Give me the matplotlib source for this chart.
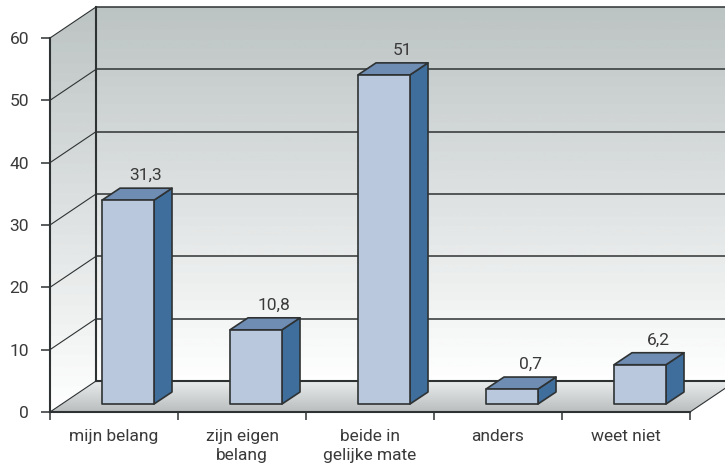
import numpy as np
import matplotlib
matplotlib.use('Agg')
import matplotlib.pyplot as plt
from matplotlib.patches import Polygon

plt.rcParams['font.family'] = ['Roboto', 'DejaVu Sans']

categorias = ['mijn belang', 'zijn eigen\nbelang', 'beide in\ngelijke mate', 'anders', 'weet niet']
rotulos = ['31,3', '10,8', '51', '0,7', '6,2']
# heights as drawn, read against the axis (the drawing is not exact to the labels)
alturas = [32.7, 11.9, 52.8, 2.4, 6.3]
marcas_y = [0, 10, 20, 30, 40, 50, 60]

# depth of the box and of the bars, in axis units
px_x = 128.0
px_y = 374 / 60
prof_x = 46 / px_x
prof_y = 31 / px_y
barra_dx = 18 / px_x
barra_dy = 12 / px_y
base = 8 / px_y
largura = 52 / px_x
desvio = 14 / px_x

COR_LINHA = '#2e3233'
COR_TEXTO = '#3a3a3a'
TAM = 12.5

fig = plt.figure(figsize=(7.25, 4.73), dpi=100)

# background axes over the whole figure, same units as the chart axes
fundo = fig.add_axes([0, 0, 1, 1], zorder=0)
fundo.axis('off')
ax = fig.add_axes([50 / 725, 61 / 473, 640 / 725, 374 / 473], zorder=1)
xlim_fundo = (-50 / px_x, 675 / px_x)
ylim_fundo = (-61 / px_y, 412 / px_y)


def gradiente(pontos, y0, y1, cor_baixo, cor_cima, faixas=0):
    # vertical gradient clipped to a polygon
    c0 = np.array(matplotlib.colors.to_rgb(cor_baixo))
    c1 = np.array(matplotlib.colors.to_rgb(cor_cima))
    t = np.linspace(1, 0, 256)
    if faixas:
        # stepped like the banding of the original gradient
        t = np.round(t * faixas) / faixas
    img = c0 + (c1 - c0) * t[:, None, None]
    xs = [p[0] for p in pontos]
    im = fundo.imshow(img, extent=[min(xs), max(xs), y0, y1], aspect='auto')
    pol = Polygon(pontos, closed=True, transform=fundo.transData, fc='none', ec='none')
    fundo.add_patch(pol)
    im.set_clip_path(pol)


# walls and floor
gradiente([(prof_x, prof_y), (5.4, prof_y), (5.4, 60 + prof_y), (prof_x, 60 + prof_y)],
          prof_y, 60 + prof_y, '#ffffff', '#bcc3c3', faixas=40)
gradiente([(0, 0), (prof_x, prof_y), (prof_x, 60 + prof_y), (0, 60)],
          0, 60 + prof_y, '#ffffff', '#bcc3c3', faixas=40)
gradiente([(0, 0), (5, 0), (5 + prof_x, prof_y), (prof_x, prof_y)],
          0, prof_y, '#b9bdbd', '#eceeee')
fundo.set_xlim(xlim_fundo)
fundo.set_ylim(ylim_fundo)

# grid lines
for v in marcas_y:
    ax.plot([prof_x, 5.4], [v + prof_y, v + prof_y], color=COR_LINHA,
            lw=1.5 if v == 0 else 1.1, zorder=2, clip_on=False)
    ax.plot([0, prof_x], [v, v + prof_y], color=COR_LINHA, lw=0.8, zorder=2, clip_on=False)
ax.plot([prof_x, prof_x], [prof_y, 60 + prof_y], color=COR_LINHA, lw=1.5, zorder=2, clip_on=False)
ax.plot([5, 5 + prof_x], [0, prof_y], color=COR_LINHA, lw=0.8, zorder=2, clip_on=False)

# bars
for i, h in enumerate(alturas):
    x0 = i + 0.5 + desvio - largura / 2
    x1 = x0 + largura
    y0 = base
    y1 = base + h
    frente = [(x0, y0), (x1, y0), (x1, y1), (x0, y1)]
    topo = [(x0, y1), (x1, y1), (x1 + barra_dx, y1 + barra_dy), (x0 + barra_dx, y1 + barra_dy)]
    lado = [(x1, y0), (x1 + barra_dx, y0 + barra_dy), (x1 + barra_dx, y1 + barra_dy), (x1, y1)]
    for pts, cor in ((lado, '#3f6e9c'), (topo, '#6f8cb3'), (frente, '#b9c8dd')):
        ax.add_patch(Polygon(pts, closed=True, fc=cor, ec=COR_LINHA, lw=1.2,
                             joinstyle='round', zorder=3, clip_on=False))
    ax.annotate(rotulos[i], xy=(x0 + largura / 2 + barra_dx, y1 + barra_dy), xytext=(0, 3.5),
                textcoords='offset points', ha='center', va='bottom',
                fontsize=TAM, color=COR_TEXTO, zorder=4)

# axes
ax.set_xlim(0, 5)
ax.set_ylim(0, 60)
ax.patch.set_visible(False)
for lado_ax in ('top', 'right'):
    ax.spines[lado_ax].set_visible(False)
for lado_ax in ('left', 'bottom'):
    ax.spines[lado_ax].set_color(COR_LINHA)
    ax.spines[lado_ax].set_linewidth(1.5)
    ax.spines[lado_ax].set_zorder(5)

ax.set_yticks(marcas_y)
ax.tick_params(axis='y', length=6.5, width=1.1, color=COR_LINHA, labelcolor=COR_TEXTO,
               labelsize=TAM, pad=8.5)
ax.set_xticks(range(6))
ax.set_xticklabels([])
ax.tick_params(axis='x', which='major', length=6, width=1.1, color=COR_LINHA)
ax.set_xticks(np.arange(5) + 0.5, minor=True)
ax.set_xticklabels(categorias, minor=True, linespacing=1.4)
ax.tick_params(axis='x', which='minor', length=0, labelcolor=COR_TEXTO, labelsize=TAM, pad=12)

fig.savefig('out.png', dpi=100)
